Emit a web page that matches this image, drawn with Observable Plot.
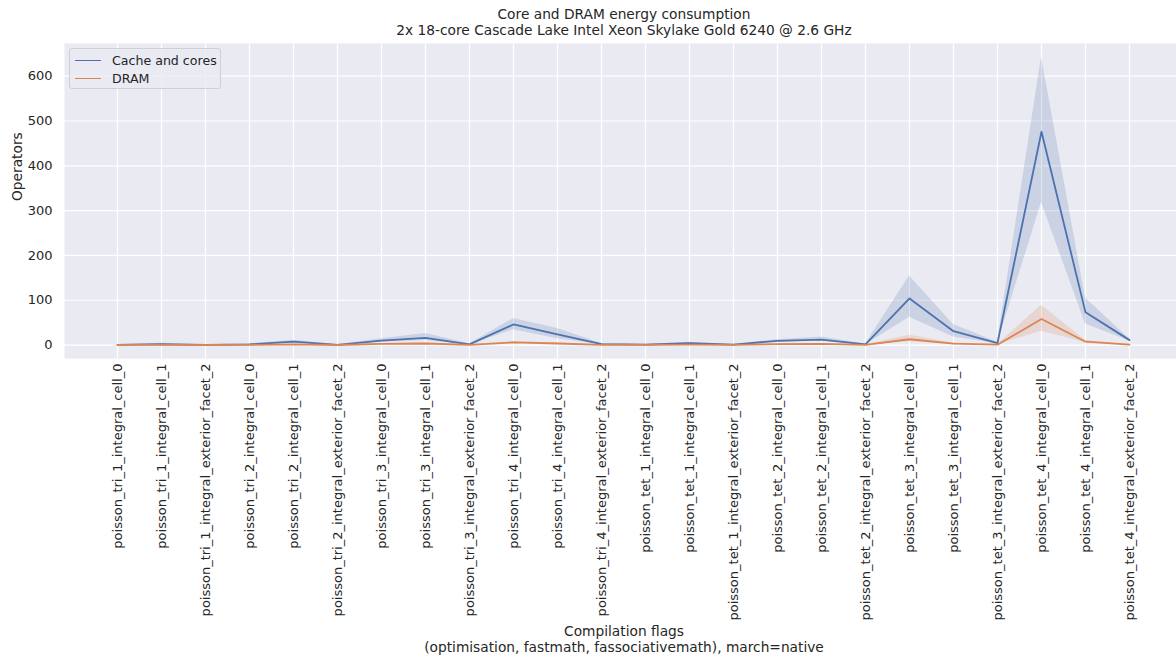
<!DOCTYPE html>
<html>
<head>
<meta charset="utf-8">
<script src="https://cdn.jsdelivr.net/npm/d3@7"></script>
<script src="https://cdn.jsdelivr.net/npm/@observablehq/plot@0.6"></script>
<style>
  html, body { margin: 0; padding: 0; background: #fff; }
  #wrap { position: relative; width: 1176px; height: 657px; font-family: "DejaVu Sans", sans-serif; color: #262626; }
  #legend { position: absolute; left: 69px; top: 48px; width: 152px; height: 41px; box-sizing: border-box;
            border: 1px solid #cfcfd6; border-radius: 3px; background: rgba(234,234,242,0.8); font-size: 12.6px; }
  .row { position: absolute; left: 5px; height: 16px; display: flex; align-items: center; }
  .sw { width: 26px; height: 0; border-top: 1.8px solid; margin-right: 11px; }
</style>
</head>
<body>
<div id="wrap"></div>
<script>
const categories = [
  "poisson_tri_1_integral_cell_0",
  "poisson_tri_1_integral_cell_1",
  "poisson_tri_1_integral_exterior_facet_2",
  "poisson_tri_2_integral_cell_0",
  "poisson_tri_2_integral_cell_1",
  "poisson_tri_2_integral_exterior_facet_2",
  "poisson_tri_3_integral_cell_0",
  "poisson_tri_3_integral_cell_1",
  "poisson_tri_3_integral_exterior_facet_2",
  "poisson_tri_4_integral_cell_0",
  "poisson_tri_4_integral_cell_1",
  "poisson_tri_4_integral_exterior_facet_2",
  "poisson_tet_1_integral_cell_0",
  "poisson_tet_1_integral_cell_1",
  "poisson_tet_1_integral_exterior_facet_2",
  "poisson_tet_2_integral_cell_0",
  "poisson_tet_2_integral_cell_1",
  "poisson_tet_2_integral_exterior_facet_2",
  "poisson_tet_3_integral_cell_0",
  "poisson_tet_3_integral_cell_1",
  "poisson_tet_3_integral_exterior_facet_2",
  "poisson_tet_4_integral_cell_0",
  "poisson_tet_4_integral_cell_1",
  "poisson_tet_4_integral_exterior_facet_2"
];
const seriesNames = ["Cache and cores", "DRAM"];
const seriesColors = ["#4c72b0", "#dd8452"];

const coresMean = [0.5, 2, 0.3, 1.5, 7.5, 0.5, 10, 16, 1.5, 46, 24, 2, 1, 4, 0.8, 9.5, 12, 1.5, 104, 31, 4.5, 476, 73, 11];
const coresLow  = [0, 0.5, 0, 0.5, 4.5, 0, 7, 10, 0.5, 34, 14, 1, 0.3, 2.5, 0.3, 7.5, 8.5, 0.8, 62, 18, 3, 318, 47, 9];
const coresHigh = [1, 4, 0.8, 3, 11, 1, 14, 26, 3, 59, 37, 3.5, 2, 6, 1.5, 12, 18, 2.5, 154, 46, 6.5, 643, 105, 13.5];

const dramMean = [0.2, 0.5, 0.1, 0.4, 1.5, 0.1, 2.5, 3.5, 0.4, 6, 3.5, 0.5, 0.3, 1, 0.2, 2, 2.5, 0.4, 13, 3, 0.8, 58, 7.5, 1];
const dramLow  = [0, 0.2, 0, 0.2, 1, 0, 1.8, 2.5, 0.2, 4.5, 2.5, 0.3, 0.1, 0.6, 0.1, 1.5, 1.8, 0.2, 7.5, 2, 0.5, 31, 5.5, 0.7];
const dramHigh = [0.4, 0.8, 0.2, 0.7, 2, 0.2, 3.2, 4.5, 0.6, 8, 4.5, 0.7, 0.5, 1.4, 0.3, 2.6, 3.2, 0.6, 22, 4.5, 1.2, 89, 10, 1.4];

const yTicks = [0, 100, 200, 300, 400, 500, 600];

const titleLines = ["Core and DRAM energy consumption", "2x 18-core Cascade Lake Intel Xeon Skylake Gold 6240 @ 2.6 GHz"];
const xLabelLines = ["Compilation flags", "(optimisation, fastmath, fassociativemath), march=native"];
const yLabel = "Operators";

const build = (mean, low, high, name) => categories.map((c, i) => ({cat: c, mean: mean[i], low: low[i], high: high[i], series: name}));
const cores = build(coresMean, coresLow, coresHigh, seriesNames[0]);
const dram = build(dramMean, dramLow, dramHigh, seriesNames[1]);

const chart = Plot.plot({
  width: 1176,
  height: 657,
  marginLeft: 64,
  marginRight: 0,
  marginTop: 43,
  marginBottom: 299,
  style: {fontFamily: "DejaVu Sans, sans-serif", fontSize: "13px", color: "#262626", background: "white", overflow: "visible"},
  x: {type: "point", domain: categories, range: [114, 1132.3], padding: 0},
  y: {domain: [-30, 673]},
  color: {domain: seriesNames, range: seriesColors},
  marks: [
    Plot.frame({fill: "#eaeaf2", stroke: null}),
    Plot.gridY(yTicks, {stroke: "white", strokeOpacity: 1, strokeWidth: 1.2}),
    Plot.gridX({stroke: "white", strokeOpacity: 1, strokeWidth: 1.2}),
    Plot.areaY(cores, {x: "cat", y1: "low", y2: "high", fill: seriesColors[0], fillOpacity: 0.2}),
    Plot.areaY(dram, {x: "cat", y1: "low", y2: "high", fill: seriesColors[1], fillOpacity: 0.2}),
    Plot.lineY(cores, {x: "cat", y: "mean", stroke: seriesColors[0], strokeWidth: 1.8}),
    Plot.lineY(dram, {x: "cat", y: "mean", stroke: seriesColors[1], strokeWidth: 1.8}),
    Plot.axisY(yTicks, {tickSize: 0, tickPadding: 12, label: null, fontSize: 13}),
    Plot.axisX({tickSize: 0, tickPadding: 5, tickRotate: -90, label: null, fontSize: 13}),
    Plot.text([titleLines.join("\n")], {frameAnchor: "top", dx: 3.5, dy: -36, lineAnchor: "top", fontSize: 13.75, lineHeight: 1.17}),
    Plot.text([xLabelLines.join("\n")], {frameAnchor: "bottom", dx: 3.5, dy: 266, lineAnchor: "top", fontSize: 13.75, lineHeight: 1.17}),
    Plot.text([yLabel], {frameAnchor: "left", dx: -47, rotate: -90, fontSize: 13.75})
  ]
});
const wrap = document.getElementById("wrap");
wrap.appendChild(chart);

const legend = document.createElement("div");
legend.id = "legend";
seriesNames.forEach((n, i) => {
  const r = document.createElement("div");
  r.className = "row";
  r.style.top = (3 + i * 18.5) + "px";
  const sw = document.createElement("span");
  sw.className = "sw";
  sw.style.borderColor = seriesColors[i];
  const t = document.createElement("span");
  t.textContent = n;
  r.appendChild(sw); r.appendChild(t);
  legend.appendChild(r);
});
wrap.appendChild(legend);
</script>
</body>
</html>
